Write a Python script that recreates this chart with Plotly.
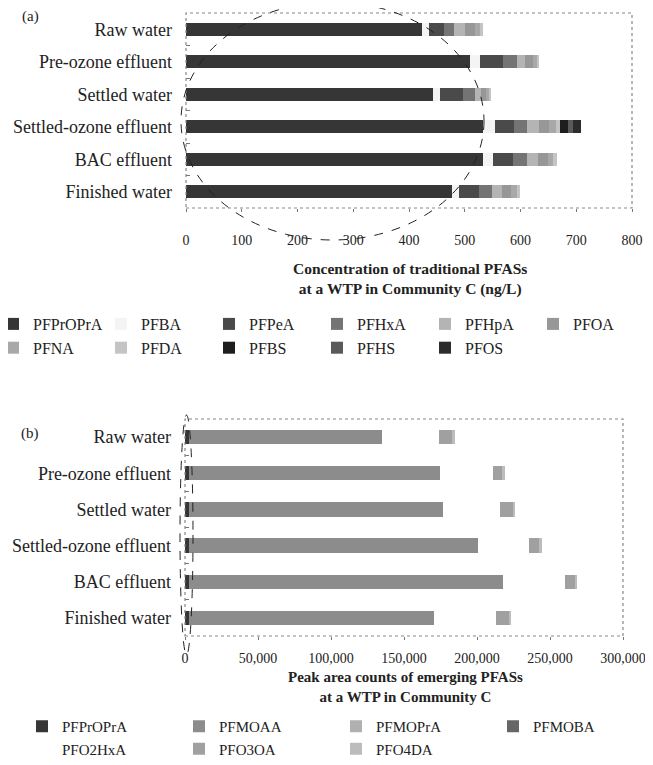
import plotly.graph_objects as go

stages = ["Raw water", "Pre-ozone effluent", "Settled water",
          "Settled-ozone effluent", "BAC effluent", "Finished water"]

# (a) traditional PFASs, ng/L
trad_names = ["PFPrOPrA", "PFBA", "PFPeA", "PFHxA", "PFHpA", "PFOA",
              "PFNA", "PFDA", "PFBS", "PFHS", "PFOS"]
PFPrOPrA_a = [424, 509, 443, 533, 533, 477]
PFBA = [11, 18, 13, 21, 18, 13]
PFPeA = [27, 41, 41, 35, 36, 35]
PFHxA = [18, 25, 21, 22, 24, 24]
PFHpA = [21, 15, 11, 22, 20, 18]
PFOA = [18, 14, 10, 18, 18, 16]
PFNA = [9, 8, 5, 12, 10, 10]
PFDA = [5, 4, 3, 8, 6, 6]
PFBS = [0, 0, 0, 15, 0, 0]
PFHS = [0, 0, 0, 8, 0, 0]
PFOS = [0, 0, 0, 15, 0, 0]
trad_values = [PFPrOPrA_a, PFBA, PFPeA, PFHxA, PFHpA, PFOA,
               PFNA, PFDA, PFBS, PFHS, PFOS]
trad_colors = ["#363636", "#f4f4f4", "#4a4a4a", "#747474", "#b4b4b4", "#979797",
               "#a8a8a8", "#c4c4c4", "#1e1e1e", "#5a5a5a", "#2c2c2c"]

# (b) emerging PFASs, peak area counts
emer_names = ["PFPrOPrA", "PFMOAA", "PFMOPrA", "PFMOBA", "PFO2HxA", "PFO3OA", "PFO4DA"]
PFPrOPrA_b = [3000, 3000, 3000, 3000, 3000, 3000]
PFMOAA = [131700, 171600, 173700, 197500, 214600, 167700]
PFMOPrA = [0, 0, 0, 0, 0, 0]
PFMOBA = [0, 0, 0, 0, 0, 0]
PFO2HxA = [39300, 36100, 39000, 35100, 42900, 42300]
PFO3OA = [9000, 7000, 9000, 7200, 6300, 8800]
PFO4DA = [2000, 1300, 1300, 1500, 1500, 1500]
emer_values = [PFPrOPrA_b, PFMOAA, PFMOPrA, PFMOBA, PFO2HxA, PFO3OA, PFO4DA]
emer_colors = ["#363636", "#8c8c8c", "#b0b0b0", "#666666", "#ffffff", "#a0a0a0", "#bcbcbc"]

a_ticks = [0, 100, 200, 300, 400, 500, 600, 700, 800]
b_ticks = [0, 50000, 100000, 150000, 200000, 250000, 300000]
b_ticktext = ["0", "50,000", "100,000", "150,000", "200,000", "250,000", "300,000"]

FONT = "Liberation Serif"
OFF = 8            # page body margin
W, H = 653 - OFF, 765 - OFF

fig = go.Figure()
for name, vals, col in zip(trad_names, trad_values, trad_colors):
    fig.add_trace(go.Bar(y=stages, x=vals, name=name, orientation="h",
                         marker=dict(color=col, line=dict(width=0)),
                         xaxis="x", yaxis="y", legend="legend"))
for name, vals, col in zip(emer_names, emer_values, emer_colors):
    fig.add_trace(go.Bar(y=stages, x=vals, name=name, orientation="h",
                         marker=dict(color=col, line=dict(width=0)),
                         xaxis="x2", yaxis="y2", legend="legend2"))

def px_x(p):
    return (p - OFF) / W

def px_y(p):
    return 1 - (p - OFF) / H

axis_font = dict(family=FONT, size=14, color="#222")
cat_font = dict(family=FONT, size=18, color="#222")
fig.update_layout(
    template="none",
    width=W, height=H,
    margin=dict(l=0, r=0, t=0, b=0, pad=0, autoexpand=False),
    paper_bgcolor="white", plot_bgcolor="white",
    barmode="stack", bargap=0.6,
    font=dict(family=FONT, size=14, color="#222"),
    xaxis=dict(domain=[px_x(186), px_x(632)], anchor="y", range=[0, 800],
               tickvals=a_ticks, showgrid=False, zeroline=False, showline=False,
               ticks="outside", ticklen=3, tickcolor="#777", automargin=False,
               ticklabelstandoff=16, tickfont=axis_font),
    yaxis=dict(domain=[px_y(208), px_y(13)], anchor="x", autorange="reversed",
               showgrid=False, zeroline=False, showline=False,
               ticks="inside", tickson="boundaries", automargin=False,
               ticklen=4, tickcolor="#777", ticklabelstandoff=13, tickfont=cat_font),
    xaxis2=dict(domain=[px_x(185), px_x(623)], anchor="y2", range=[0, 300000],
                tickvals=b_ticks, ticktext=b_ticktext, showgrid=False, zeroline=False,
                showline=False, ticks="outside", ticklen=3, tickcolor="#777",
                automargin=False, ticklabelstandoff=6, tickfont=axis_font),
    yaxis2=dict(domain=[px_y(636), px_y(419)], anchor="x2", autorange="reversed",
                showgrid=False, zeroline=False, showline=False,
                ticks="inside", tickson="boundaries", automargin=False,
                ticklen=4, tickcolor="#777", ticklabelstandoff=13, tickfont=cat_font),
    legend=dict(orientation="h", x=0, y=px_y(307), xanchor="left", yanchor="top",
                entrywidth=78, indentation=-15, traceorder="normal",
                bgcolor="rgba(0,0,0,0)",
                font=dict(family=FONT, size=16, color="#222")),
    legend2=dict(orientation="h", x=px_x(22), y=px_y(710), xanchor="left", yanchor="top",
                 entrywidth=112, traceorder="normal", bgcolor="rgba(0,0,0,0)",
                 font=dict(family=FONT, size=15, color="#222")),
)

shapes = []
for xr, yr in (("x domain", "y domain"), ("x2 domain", "y2 domain")):
    shapes.append(dict(type="rect", xref=xr, yref=yr, x0=0, x1=1, y0=0, y1=1,
                       line=dict(color="#888", width=1.2, dash="dot")))
shapes.append(dict(type="circle", xref="paper", yref="paper",
                   x0=px_x(181), x1=px_x(484), y0=px_y(240), y1=px_y(2),
                   line=dict(color="#222", width=1, dash="dash")))
shapes.append(dict(type="circle", xref="paper", yref="paper",
                   x0=px_x(180), x1=px_x(193), y0=px_y(655), y1=px_y(415),
                   line=dict(color="#222", width=1, dash="dash")))
fig.update_layout(shapes=shapes)

ann = []
ann.append(dict(text="(a)", x=px_x(30), y=px_y(16), xref="paper", yref="paper",
                xanchor="center", yanchor="middle",
                showarrow=False, font=dict(family=FONT, size=15)))
ann.append(dict(text="(b)", x=px_x(30), y=px_y(433), xref="paper", yref="paper",
                xanchor="center", yanchor="middle",
                showarrow=False, font=dict(family=FONT, size=15)))
ann.append(dict(text="<b>Concentration of traditional PFASs<br>at a WTP in Community C (ng/L)</b>",
                x=px_x(410), y=px_y(279), xref="paper", yref="paper", showarrow=False,
                xanchor="center", yanchor="middle",
                font=dict(family=FONT, size=15.5), align="center"))
ann.append(dict(text="<b>Peak area counts of emerging PFASs<br>at a WTP in Community C</b>",
                x=px_x(405), y=px_y(687), xref="paper", yref="paper", showarrow=False,
                xanchor="center", yanchor="middle",
                font=dict(family=FONT, size=15), align="center"))
fig.update_layout(annotations=ann)

fig.write_html("out.html")
